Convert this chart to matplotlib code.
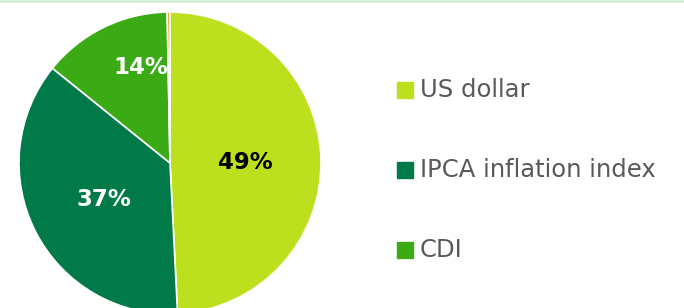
import matplotlib
matplotlib.use("Agg")
import matplotlib.pyplot as plt
from matplotlib.patches import Rectangle
from matplotlib.lines import Line2D

# Data
labels = ["US dollar", "IPCA inflation index", "CDI", "Other"]
shares = [49.2, 36.6, 13.9, 0.3]
pct_text = ["49%", "37%", "14%", ""]
colors = ["#bde01e", "#007a48", "#3aab14", "#f2a51a"]
text_colors = ["black", "white", "white", "white"]
legend_n = 3

plt.rcParams["font.family"] = ["DejaVu Sans"]

fig = plt.figure(figsize=(6.84, 3.08), dpi=100)

# thin top border
fig.add_artist(Line2D([0, 1], [0.996, 0.996], color="#d3efd6", lw=2,
                      transform=fig.transFigure))

# Pie
ax = fig.add_axes([19 / 684, -6 / 308, 302 / 684, 302 / 308])
wedges, _ = ax.pie(shares, colors=colors, startangle=90, counterclock=False,
                   radius=1, wedgeprops=dict(edgecolor="white", linewidth=1.2))
ax.set_xlim(-1, 1)
ax.set_ylim(-1, 1)
ax.set_aspect("equal")
ax.axis("off")

# percentage labels
label_pos = [(0.5, 0.0), (-0.44, -0.24), (-0.19, 0.63)]
for i, (x, y) in enumerate(label_pos):
    ax.text(x, y, pct_text[i], ha="center", va="center", fontsize=16.5,
            fontweight="bold", color=text_colors[i])

# Legend
for i in range(legend_n):
    yc = 1 - (90 + 80 * i) / 308
    fig.add_artist(Rectangle((397 / 684, yc - 8 / 308), 16 / 684, 16 / 308,
                             color=colors[i], transform=fig.transFigure))
    fig.text(420 / 684, yc, labels[i], fontsize=17.5, color="#595959",
             ha="left", va="center")

fig.savefig("out.png", dpi=100)
